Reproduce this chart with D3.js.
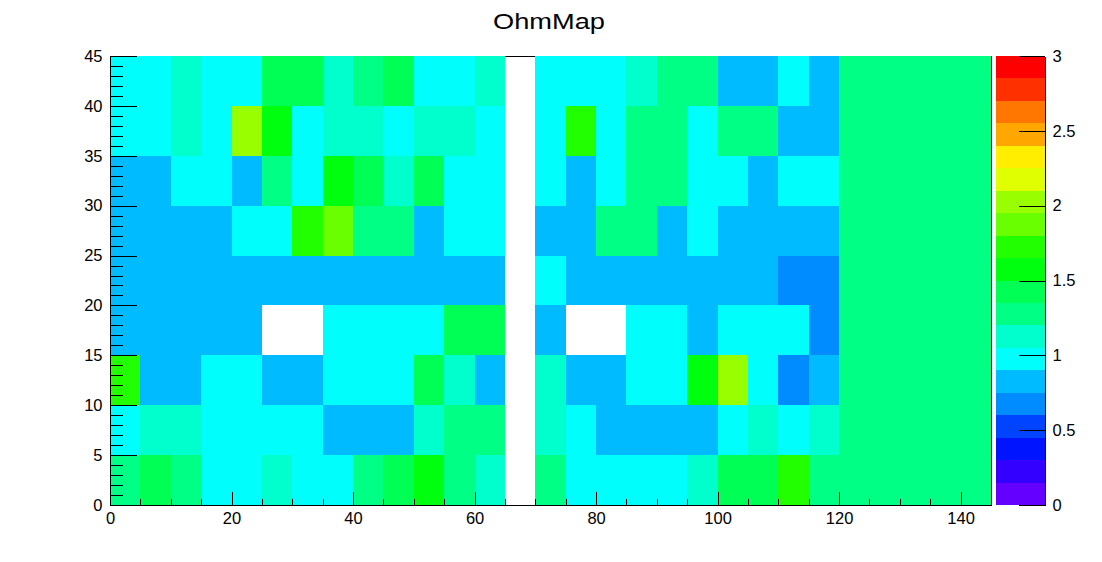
<!DOCTYPE html>
<html><head><meta charset="utf-8">
<script src="https://cdn.jsdelivr.net/npm/d3@7"></script>
<style>body{margin:0;background:#fff}svg{display:block}text{font-family:"Liberation Sans",Arial,sans-serif;fill:#000}</style>
</head><body>
<svg id="c" width="1102" height="562"></svg>
<script>
const title = "OhmMap";
const xRange = [0, 145];
const yRange = [0, 45];
const binWidth = 5;
const zRange = [0, 3];
const xMajorTicks = [0, 20, 40, 60, 80, 100, 120, 140];
const yMajorTicks = [0, 5, 10, 15, 20, 25, 30, 35, 40, 45];
const zTicks = [0, 0.5, 1, 1.5, 2, 2.5, 3];
const paletteColors = ["#6300ff","#3300ff","#0014ff","#0044ff","#008bff","#00bbff","#00fffc","#00ffcc","#00ff85","#00ff55",
  "#00ff0e","#22ff00","#69ff00","#99ff00","#e0ff00","#ffee00","#ffa700","#ff7700","#ff3000","#ff0000"];
// rows from y=0-5 (first) to y=40-45 (last); 29 x bins of width 5; null = empty bin
const N = null;
const row_y0  = [1.3,1.4,1.3,1.0,1.0,1.1,1.0,1.0,1.3,1.4,1.6,1.3,1.1,N,1.3,1.0,1.0,1.0,1.0,1.1,1.4,1.4,1.7,1.3,1.3,1.3,1.3,1.3,1.3];
const row_y5  = [1.0,1.1,1.1,1.0,1.0,1.0,1.0,0.8,0.8,0.8,1.1,1.3,1.3,N,1.1,1.0,0.8,0.8,0.8,0.8,1.0,1.1,1.0,1.1,1.3,1.3,1.3,1.3,1.3];
const row_y10 = [1.7,0.8,0.8,1.0,1.0,0.8,0.8,1.0,1.0,1.0,1.4,1.1,0.8,N,1.1,0.8,0.8,1.0,1.0,1.6,2.0,1.0,0.7,0.8,1.3,1.3,1.3,1.3,1.3];
const row_y15 = [0.8,0.8,0.8,0.8,0.8,N,N,1.0,1.0,1.0,1.0,1.4,1.4,N,0.8,N,N,1.0,1.0,0.8,1.0,1.0,1.0,0.7,1.3,1.3,1.3,1.3,1.3];
const row_y20 = [0.8,0.8,0.8,0.8,0.8,0.8,0.8,0.8,0.8,0.8,0.8,0.8,0.8,N,1.0,0.8,0.8,0.8,0.8,0.8,0.8,0.8,0.7,0.7,1.3,1.3,1.3,1.3,1.3];
const row_y25 = [0.8,0.8,0.8,0.8,1.0,1.0,1.7,1.9,1.3,1.3,0.8,1.0,1.0,N,0.8,0.8,1.3,1.3,0.8,1.0,0.8,0.8,0.8,0.8,1.3,1.3,1.3,1.3,1.3];
const row_y30 = [0.8,0.8,1.0,1.0,0.8,1.3,1.0,1.6,1.4,1.1,1.4,1.0,1.0,N,1.0,0.8,1.0,1.3,1.3,1.0,1.0,0.8,1.0,1.0,1.3,1.3,1.3,1.3,1.3];
const row_y35 = [1.0,1.0,1.1,1.0,2.0,1.6,1.0,1.1,1.1,1.0,1.1,1.1,1.0,N,1.0,1.7,1.0,1.3,1.3,1.0,1.3,1.3,0.8,0.8,1.3,1.3,1.3,1.3,1.3];
const row_y40 = [1.0,1.0,1.1,1.0,1.0,1.4,1.4,1.1,1.3,1.4,1.0,1.0,1.1,N,1.0,1.0,1.0,1.1,1.3,1.3,0.8,0.8,1.0,0.8,1.3,1.3,1.3,1.3,1.3];
const rows = [row_y0,row_y5,row_y10,row_y15,row_y20,row_y25,row_y30,row_y35,row_y40];

const svg = d3.select("#c");
const L = 110, R = 991, T = 56, B = 505;
const x = d3.scaleLinear().domain(xRange).range([L, R]);
const y = d3.scaleLinear().domain(yRange).range([B, T]);
const color = d3.scaleQuantize().domain(zRange).range(paletteColors);

// title
svg.append("text").attr("x", 549).attr("y", 29).attr("text-anchor", "middle")
  .attr("textLength", 112).attr("lengthAdjust", "spacingAndGlyphs")
  .style("font-size", "22.5px").text(title);

// frame top line (under cells)
svg.append("line").attr("x1", L).attr("x2", R).attr("y1", T + 0.5).attr("y2", T + 0.5).attr("stroke", "#000");

// cells
const cells = [];
rows.forEach((r, j) => r.forEach((v, i) => { if (v !== null) cells.push({ i, j, v }); }));
svg.append("g").attr("shape-rendering", "crispEdges").selectAll("rect").data(cells).join("rect")
  .attr("x", d => x(d.i * binWidth))
  .attr("y", d => y((d.j + 1) * binWidth))
  .attr("width", d => x((d.i + 1) * binWidth) - x(d.i * binWidth))
  .attr("height", d => y(d.j * binWidth) - y((d.j + 1) * binWidth))
  .attr("fill", d => color(d.v));

// right frame line
svg.append("line").attr("x1", R + 0.5).attr("x2", R + 0.5).attr("y1", T).attr("y2", B).attr("stroke", "#000");

function styleAxis(g) {
  g.selectAll("path,line").attr("stroke", "#000").attr("shape-rendering", "crispEdges");
  g.selectAll("text").style("font-size", "16.5px").attr("fill", "#000").style("font-family", '"Liberation Sans",Arial,sans-serif');
}
// x minor
svg.append("g").attr("transform", `translate(0,${B})`)
  .call(d3.axisBottom(x).tickValues(d3.range(0, 146, 5)).tickSize(-6).tickFormat(""))
  .call(styleAxis);
// x major
svg.append("g").attr("transform", `translate(0,${B})`)
  .call(d3.axisBottom(x).tickValues(xMajorTicks).tickSizeInner(-13).tickSizeOuter(0).tickPadding(7.5).tickFormat(d3.format("d")))
  .call(styleAxis);
// y minor
svg.append("g").attr("transform", `translate(${L},0)`)
  .call(d3.axisLeft(y).tickValues(d3.range(0, 46, 1)).tickSize(-13).tickFormat(""))
  .call(styleAxis);
// y major
svg.append("g").attr("transform", `translate(${L},0)`)
  .call(d3.axisLeft(y).tickValues(yMajorTicks).tickSizeInner(-27).tickSizeOuter(0).tickPadding(7.5).tickFormat(d3.format("d")))
  .call(styleAxis);

// palette
const PL = 996, PR = 1045;
const yp = d3.scaleLinear().domain(zRange).range([B, T]);
const step = (zRange[1] - zRange[0]) / paletteColors.length;
svg.append("g").attr("shape-rendering", "crispEdges").selectAll("rect").data(paletteColors).join("rect")
  .attr("x", PL).attr("width", PR - PL)
  .attr("y", (c, k) => yp((k + 1) * step))
  .attr("height", (c, k) => yp(k * step) - yp((k + 1) * step))
  .attr("fill", c => c);
svg.append("g").attr("transform", `translate(${PR},0)`)
  .call(d3.axisRight(yp).tickValues(zTicks).tickSizeInner(-26).tickSizeOuter(0).tickPadding(7.5).tickFormat(d3.format("~g")))
  .call(styleAxis);
</script>
</body></html>
